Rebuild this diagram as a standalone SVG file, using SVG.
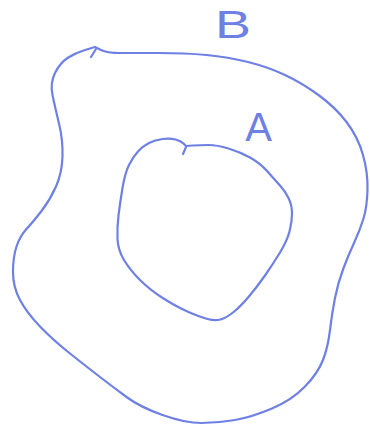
<svg xmlns="http://www.w3.org/2000/svg" width="370" height="430" viewBox="0 0 370 430">
<style>
.pen{fill:none;stroke:#6f80e4;stroke-width:2.2;stroke-linecap:round;stroke-linejoin:round}
.lbl{font-family:"Liberation Sans","DejaVu Sans",sans-serif;fill:#6f80e4;text-anchor:middle}
</style>
<rect width="370" height="430" fill="#ffffff"/>
<g id="region-B">
<path class="pen" d="M95 47 L101 50 Q107 53 120 53 Q133 53 159 53 Q185 53 206.5 55 Q228 57 248 62 Q268 67 285 75 Q302 83 318.5 95 Q335 107 346.5 122 Q358 137 363 155 Q368 173 367.5 190 Q367 207 363.5 218.5 Q360 230 354 243 Q348 256 343 269.5 Q338 283 335 298 Q332 313 330 330 Q328 347 323 360 Q318 373 305 386.5 Q292 400 272 408.5 Q252 417 235 420 Q218 423 201.5 423 Q185 423 162.5 415 Q140 407 126.5 397 Q113 387 100 377 Q87 367 70 353.5 Q53 340 40 326.5 Q27 313 20 300 Q13 287 13 272 Q13 257 16.5 246.5 Q20 236 26.5 229 Q33 222 41.5 211 Q50 200 56 186.5 Q62 173 62.5 156.5 Q63 140 59 123.5 Q55 107 52.5 95 Q50 83 55 73 Q60 63 67.5 58 Q75 53 85 50 L95 47"/>
<path class="pen" d="M96 49 L91 57"/>
<text class="lbl" x="233" y="38" font-size="38" textLength="36" lengthAdjust="spacingAndGlyphs">B</text>
</g>
<g id="region-A">
<path class="pen" d="M186 146 L193 145.5 Q200 145 208.5 145 Q217 145 228.5 148.5 Q240 152 250 157.5 Q260 163 267.5 171.5 Q275 180 280 185.5 Q285 191 288.5 198 Q292 205 292 213.5 Q292 222 289.5 231.5 Q287 241 280 252.5 Q273 264 265 275.5 Q257 287 248.5 297 Q240 307 233 312.5 Q226 318 220.5 319.5 Q215 321 207.5 319 Q200 317 188.5 312 Q177 307 163.5 298.5 Q150 290 140 280 Q130 270 124 260 Q118 250 117.5 239 Q117 228 118.5 215.5 Q120 203 122.5 188 Q125 173 129 165 Q133 157 138 151.5 Q143 146 149 143 Q155 140 162.5 139 Q170 138 175.5 139.5 Q181 141 183.5 143.5 L186 146"/>
<path class="pen" d="M186 147 L183 154"/>
<text class="lbl" x="258.5" y="141" font-size="40">A</text>
</g>
<g id="connectors"></g>
</svg>
